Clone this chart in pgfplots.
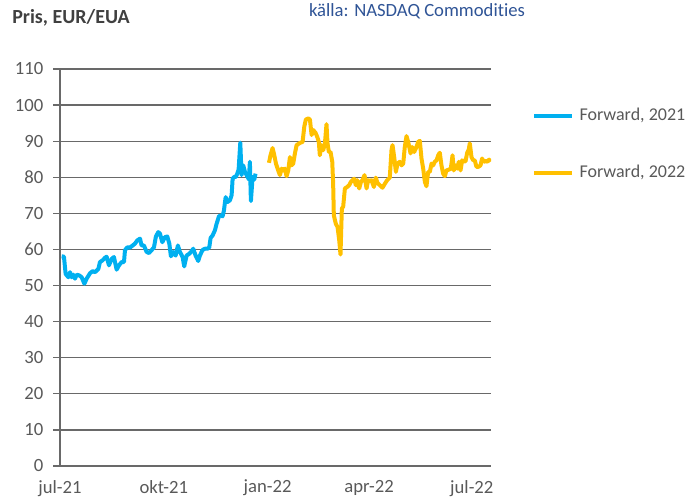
\documentclass[border=0pt]{standalone}
\usepackage{fontspec}
\setmainfont{Carlito}[Ligatures=NoCommon]
\usepackage{pgfplots}
\pgfplotsset{compat=1.18}

\definecolor{fwblue}{RGB}{0,176,240}
\definecolor{fwgold}{RGB}{255,192,0}
\definecolor{txtgrey}{RGB}{89,89,89}
\definecolor{titlegrey}{RGB}{64,64,64}
\definecolor{gridgrey}{RGB}{105,105,105}
\definecolor{srcblue}{RGB}{47,84,150}

% x = days since 1 jul 2021
\pgfplotstableread{
x y
1.5 58.1
3.5 58
5 53.2
7.4 52.3
8.9 53.7
10.3 52.3
11.8 53
13.3 51.9
14.8 53
17.1 52.8
19.2 52.3
21.6 50.5
23.6 51.9
26.6 53.4
28.9 54
31 53.7
34 54.6
35.4 56.5
37.8 57
39.9 57.7
41.3 58
43.4 55.6
45.8 57.4
47.8 57.9
50.2 54.4
52.3 55.6
54.6 56.5
56.7 56.5
57.6 59.8
59.6 60.6
62 60.5
64.4 61.1
66.4 61.6
68.5 62.5
70.9 63
72.3 61.1
74.4 61.1
76.8 59.3
78.8 59
81.2 59.8
83.3 60.6
85 63.6
87.1 64.8
88.6 64.4
90.7 62
93 63.4
95.1 63.6
96.9 61.6
98.3 58.1
100.4 59.3
102.5 58.3
104.5 61.1
106.3 59.3
108.7 57.9
110.1 55.3
112.2 58.3
114.6 58.8
116.6 59.5
118.1 60.2
120.2 58.3
122.5 56.8
124 58.3
126.4 59.9
128.5 60.2
130.8 60.2
132.3 60.6
133.5 63.2
135.3 63.9
137.3 65.3
138.8 67.1
140.9 69.2
142.6 69.4
144.1 69.2
145.3 70.8
146.8 74.5
148.2 73.1
150.6 73.6
152.1 75
153 79.6
154.4 80.1
155.9 80.1
157.1 81
158.3 82.1
159.8 89.6
160.9 80.6
162.4 83.3
163.9 81.5
165.4 80.6
167.4 79.4
168.3 84.3
169.2 73.4
170.7 80.1
172.2 79.4
173.3 81
}\fwone

\pgfplotstableread{
x y
185.2 84
186.6 86.1
188.4 88.1
189.6 86.6
191.4 83.8
193.4 81.9
194.9 80.6
196.4 82.4
197.9 81.9
199.3 82.4
200.8 80.3
202.3 81.9
203.8 85.6
205.2 83.3
206.7 83.8
208.2 86.6
209.7 88.9
212.6 89.5
215 89.8
216.5 94
217.9 96
220 96.3
221.5 96
223 91.7
224.4 93.1
226.5 92.3
228 91.2
229.4 89.8
230.3 86.1
231.8 88.9
233.3 87.5
234.8 89.4
236.2 94.7
237.1 89.4
238.3 87
239.8 87
241.3 84.3
242.1 78.2
242.7 69.4
244.5 67.1
246 66.2
247.5 62.5
248.6 58.6
249.8 71.3
251 71.9
252.5 76.9
254.5 77.3
256.3 77.8
257.8 78.7
259.3 79.2
260.7 79.6
262.2 77.8
263.4 79.2
265.2 76.9
266.7 78.7
268.1 79.2
269.9 80.6
271.7 76.9
273.1 79.2
274.6 78.9
276.1 79.2
278.2 77.3
279.9 79.9
281.4 78.4
283.5 77.8
285.8 77.1
287.9 78.2
290 79.2
292.3 79.9
293.8 87.5
294.7 88.9
296.2 85.6
297.7 81.5
299.1 83.8
301.2 84.3
302.7 83.3
304.2 83.8
305.6 88.4
307.1 91.4
308.6 89.8
310.7 86.6
312.1 88.4
313.9 87
316 88.4
317.4 89.8
318.9 90.1
320.4 85.2
321.9 82.4
323.4 78.7
324.8 77.5
326.3 81.5
327.8 81.5
329.3 83.8
330.7 83.3
332.2 84.3
333.7 84.7
335.2 86.1
336.6 86.8
338.1 83.3
339.6 81
341.1 80.3
342.5 81.9
344.6 82.1
346.4 82.4
347.9 86.1
349 81.9
350.5 83.3
352 82.4
353.5 84.3
355 81.9
356.4 84.7
357.9 84.4
359.4 84.4
360.9 86.8
362.3 87.7
363.2 89.4
364.7 85.6
366.2 84.7
367.6 84.7
369.1 82.9
370.9 82.9
372.7 83.3
374.1 85.2
375.6 84.3
377.4 84.5
378.9 84.3
380.3 84.9
381.5 84.3
}\fwtwo

\begin{document}
\begin{tikzpicture}
\useasboundingbox (0,0) rectangle (525pt,374.25pt);

\node[anchor=base west, font=\fontsize{15}{17}\selectfont\bfseries, text=titlegrey, inner sep=0pt]
  at (9pt,356.25pt) {Pris, EUR/EUA};
\node[anchor=base, font=\fontsize{14}{16}\selectfont, text=srcblue, inner sep=0pt]
  at (312.75pt,361.5pt) {källa: NASDAQ Commodities};

\begin{axis}[
    at={(45pt,24.75pt)}, anchor=south west,
    scale only axis,
    width=323.25pt, height=297.75pt,
    xmin=0, xmax=382,
    ymin=0, ymax=110,
    xtick={0,92,184,274,365},
    xticklabels={jul-21,okt-21,jan-22,apr-22,jul-22},
    ytick={0,10,...,110},
    axis lines*=left,
    axis line style={draw=gridgrey, line width=1.4pt},
    ymajorgrids,
    grid style={draw=gridgrey, line width=0.9pt},
    xtick style={draw=none},
    ytick style={draw=gridgrey, line width=1pt},
    tick align=outside,
    major tick length=5pt,
    tick label style={font=\fontsize{14}{16}\selectfont, text=txtgrey},
    /pgf/number format/assume math mode=true,
    yticklabel style={xshift=-4pt},
    xticklabel style={yshift=-2pt},
    legend style={at={(axis description cs:1.095,0.81)}, anchor=west,
        draw=none, fill=none, inner sep=0pt, row sep=30pt, column sep=4.5pt,
        font=\fontsize{13.5}{16}\selectfont, text=txtgrey,
        nodes={inner sep=0pt, text height=10pt, text depth=3pt}},
    legend cell align=left,
    legend image code/.code={\draw[#1] (0pt,0pt) -- (28pt,0pt);},
]
\addplot[fwblue, line width=3pt, line join=round] table[x=x, y=y] {\fwone};
\addplot[fwgold, line width=3pt, line join=round] table[x=x, y=y] {\fwtwo};
\legend{{Forward, 2021},{Forward, 2022}}
\end{axis}
\end{tikzpicture}
\end{document}
